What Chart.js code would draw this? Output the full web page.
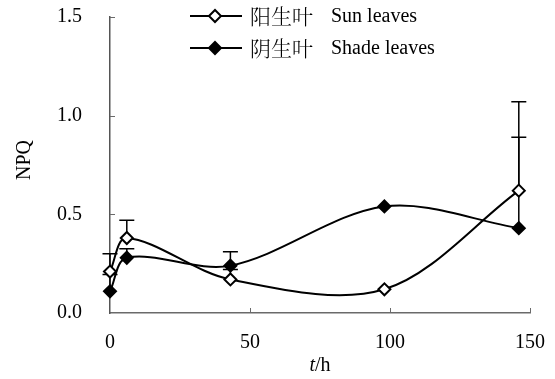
<!DOCTYPE html>
<html>
<head>
<meta charset="utf-8">
<script src="https://cdn.jsdelivr.net/npm/chart.js@4/dist/chart.umd.min.js"></script>
<style>
  html, body { margin: 0; padding: 0; background: #fff; overflow: hidden; }
  canvas { display: block; }
</style>
</head>
<body>
<canvas id="npq" width="555" height="379"></canvas>
<script>
// Sampling times (h) and NPQ means with one-sided (upper) error bars
const hours    = [0, 6, 43, 98, 146];
const sunNPQ   = [0.21, 0.38, 0.17, 0.12, 0.62];
const sunErr   = [0.09, 0.09, 0.05, 0, 0.45];
const shadeNPQ = [0.11, 0.28, 0.24, 0.54, 0.43];
const shadeErr = [0.085, 0.045, 0.07, 0, 0.46];

const xTicks = [0, 50, 100, 150];
const yTicks = [0, 0.5, 1.0, 1.5];

const sunName   = ['阳生叶', 'Sun leaves'];
const shadeName = ['阴生叶', 'Shade leaves'];

const SERIF = '"Liberation Serif", "Times New Roman", serif';
const CJK = '"Noto Serif CJK SC", "Noto Sans CJK SC", "Noto Sans CJK JP", sans-serif';
const AXIS_GREY = '#6a6a6a';

const toPoints = (ys) => hours.map((h, i) => ({ x: h, y: ys[i] }));

// Upper error bars, drawn beneath the markers
const errorBars = {
  id: 'errorBars',
  beforeDatasetsDraw(chart) {
    const { ctx, scales: { x, y } } = chart;
    const sets = [[sunNPQ, sunErr], [shadeNPQ, shadeErr]];
    ctx.save();
    ctx.strokeStyle = '#000';
    ctx.lineWidth = 1.5;
    sets.forEach(([vals, errs]) => {
      vals.forEach((v, i) => {
        if (!errs[i]) return;
        const px = x.getPixelForValue(hours[i]);
        const y0 = y.getPixelForValue(v);
        const y1 = y.getPixelForValue(v + errs[i]);
        ctx.beginPath();
        ctx.moveTo(px, y0);
        ctx.lineTo(px, y1);
        ctx.moveTo(px - 7.5, y1);
        ctx.lineTo(px + 7.5, y1);
        ctx.stroke();
      });
    });
    ctx.restore();
  }
};

// Inward tick marks, axis titles and the legend block
const decorations = {
  id: 'decorations',
  afterDraw(chart) {
    const { ctx, chartArea: a, scales: { x, y } } = chart;
    ctx.save();
    ctx.strokeStyle = AXIS_GREY;
    ctx.lineWidth = 1;
    ctx.beginPath();
    xTicks.forEach(v => {
      if (v === 0) return;
      const px = Math.round(x.getPixelForValue(v)) + 0.5;
      ctx.moveTo(px, a.bottom);
      ctx.lineTo(px, a.bottom - 5);
    });
    yTicks.forEach(v => {
      if (v === 0) return;
      const py = Math.round(y.getPixelForValue(v)) + 0.5;
      ctx.moveTo(a.left, py);
      ctx.lineTo(a.left + 5, py);
    });
    ctx.stroke();

    // y title
    ctx.fillStyle = '#000';
    ctx.font = '20px ' + SERIF;
    ctx.textAlign = 'center';
    ctx.textBaseline = 'middle';
    ctx.save();
    ctx.translate(25, 160);
    ctx.rotate(-Math.PI / 2);
    ctx.fillText('NPQ', 0, 0);
    ctx.restore();

    // x title: italic t, upright /h
    const italic = 'italic 20px ' + SERIF;
    const upright = '20px ' + SERIF;
    ctx.font = italic;
    const wT = ctx.measureText('t').width;
    ctx.font = upright;
    const wH = ctx.measureText('/h').width;
    const cx = (a.left + a.right) / 2;
    let sx = cx - (wT + wH) / 2;
    ctx.textAlign = 'left';
    ctx.font = italic;
    ctx.fillText('t', sx, 366);
    ctx.font = upright;
    ctx.fillText('/h', sx + wT, 366);

    // legend
    const rows = [
      { name: sunName, y: 16, fill: '#fff' },
      { name: shadeName, y: 48, fill: '#000' }
    ];
    rows.forEach(r => {
      ctx.strokeStyle = '#000';
      ctx.lineWidth = 2;
      ctx.beginPath();
      ctx.moveTo(190, r.y);
      ctx.lineTo(242, r.y);
      ctx.stroke();
      ctx.fillStyle = r.fill;
      ctx.strokeStyle = '#000';
      ctx.lineWidth = 2;
      Chart.helpers.drawPoint(ctx, { pointStyle: 'rectRot', radius: 6, rotation: 0, borderWidth: 2 }, 215, r.y);
      ctx.fillStyle = '#000';
      ctx.textAlign = 'left';
      ctx.textBaseline = 'middle';
      ctx.font = '300 21px ' + CJK;
      ctx.fillText(r.name[0], 250, r.y);
      ctx.font = '20px ' + SERIF;
      ctx.fillText(r.name[1], 331, r.y + 1);
    });
    ctx.restore();
  }
};

new Chart(document.getElementById('npq'), {
  type: 'line',
  data: {
    datasets: [
      {
        label: sunName.join(' '),
        data: toPoints(sunNPQ),
        borderColor: '#000',
        borderWidth: 2,
        tension: 0.33,
        pointStyle: 'rectRot',
        pointRadius: 6,
        pointBorderWidth: 2,
        pointBackgroundColor: '#fff',
        pointBorderColor: '#000',
        clip: false
      },
      {
        label: shadeName.join(' '),
        data: toPoints(shadeNPQ),
        borderColor: '#000',
        borderWidth: 2,
        tension: 0.33,
        pointStyle: 'rectRot',
        pointRadius: 6,
        pointBorderWidth: 2,
        pointBackgroundColor: '#000',
        pointBorderColor: '#000',
        clip: false
      }
    ]
  },
  options: {
    responsive: false,
    animation: false,
    devicePixelRatio: 1,
    layout: { padding: { left: 0, right: 25, top: 17, bottom: 0 } },
    plugins: { legend: { display: false }, tooltip: { enabled: false } },
    scales: {
      x: {
        type: 'linear',
        min: 0, max: 150,
        afterBuildTicks: s => { s.ticks = xTicks.map(v => ({ value: v })); },
        afterFit: s => { s.height = 66; },
        ticks: { color: '#000', font: { family: SERIF, size: 20 }, padding: 0, maxRotation: 0, callback: v => String(v) },
        grid: { drawOnChartArea: false, drawTicks: true, tickLength: 18, tickColor: 'rgba(0,0,0,0)' },
        border: { color: AXIS_GREY, width: 1.5 }
      },
      y: {
        type: 'linear',
        min: 0, max: 1.5,
        afterBuildTicks: s => { s.ticks = yTicks.map(v => ({ value: v })); },
        afterFit: s => { s.width = 110; },
        ticks: { color: '#000', font: { family: SERIF, size: 20 }, padding: 0, callback: v => v.toFixed(1) },
        grid: { drawOnChartArea: false, drawTicks: true, tickLength: 28, tickColor: 'rgba(0,0,0,0)' },
        border: { color: '#555', width: 1.5 }
      }
    }
  },
  plugins: [errorBars, decorations]
});
</script>
</body>
</html>
